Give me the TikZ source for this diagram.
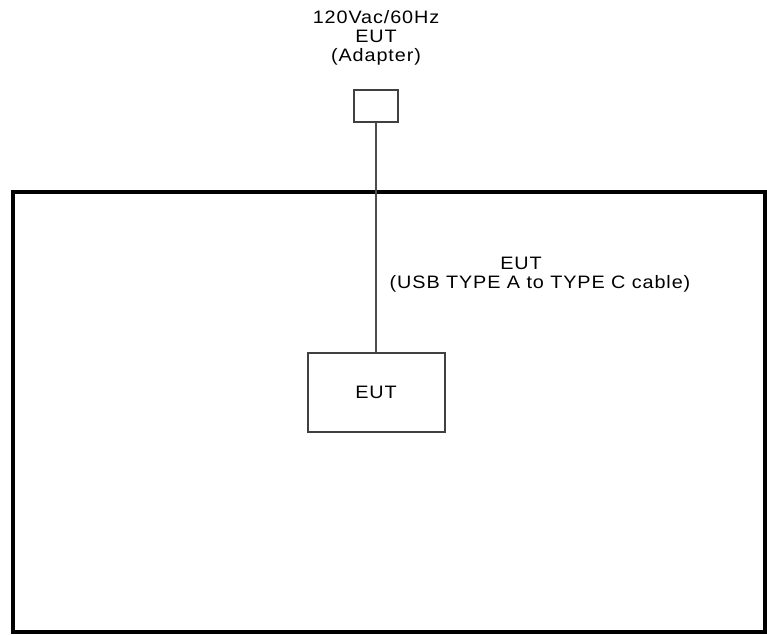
\documentclass[tikz,border=0pt]{standalone}
\usepackage{fontspec}
\setmainfont[FakeStretch=1.1,LetterSpace=5]{Liberation Sans}
\begin{document}
\begin{tikzpicture}[x=1pt,y=-1pt,
  txt/.style={font=\fontsize{18}{19}\selectfont},
  lbl/.style={txt,anchor=base,inner sep=0pt},
  smallbox/.style={draw=black!75,line width=2pt,inner sep=0pt},
  wire/.style={draw=black!70,line width=2pt},
  frame/.style={draw=black,line width=4pt}]
\useasboundingbox (0,0) rectangle (767,634);
% outer enclosure
\draw[frame] (12.5,191.5) rectangle (765,632);
% adapter
\node[smallbox,minimum width=44pt,minimum height=32pt] (adapter) at (376,106) {};
\node[lbl] (t1) at (376,24) {120Vac/60Hz};
\node[lbl] (t2) at (376,43) {EUT};
\node[lbl] (t3) at (376,62) {(Adapter)};
% EUT
\node[smallbox,txt,minimum width=137pt,minimum height=79pt] (eut) at (376,392.5) {EUT};
% cable
\draw[wire] (adapter.south) -- (eut.north);
\node[lbl] (c1) at (521,269.5) {EUT};
\node[lbl] (c2) at (540,288.5) {(USB TYPE A to TYPE C cable)};
\end{tikzpicture}
\end{document}
